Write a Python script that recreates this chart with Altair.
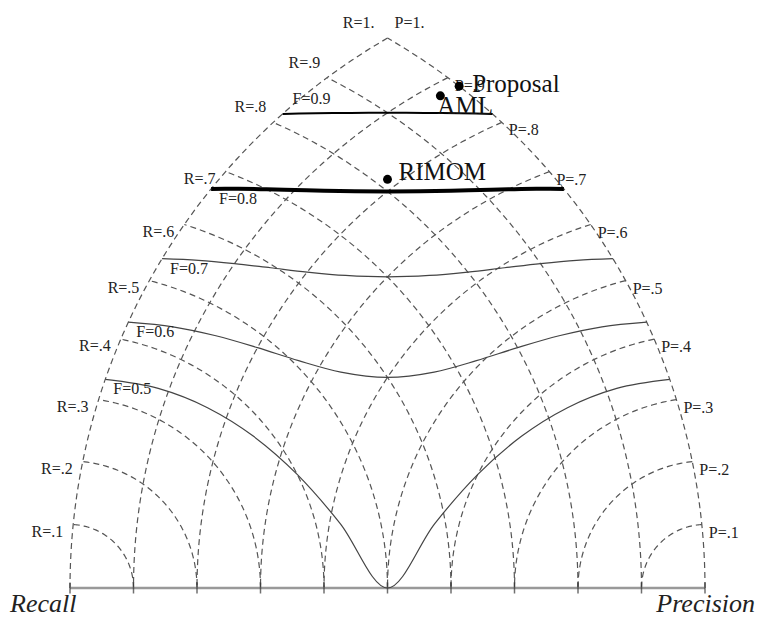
import numpy as np
import pandas as pd
import altair as alt

# ---------------- data ----------------
grid_levels = [0.1, 0.2, 0.3, 0.4, 0.5, 0.6, 0.7, 0.8, 0.9]
r_labels = ["R=.1", "R=.2", "R=.3", "R=.4", "R=.5", "R=.6", "R=.7", "R=.8", "R=.9"]
p_labels = ["P=.1", "P=.2", "P=.3", "P=.4", "P=.5", "P=.6", "P=.7", "P=.8", "P=.9"]
f_levels = [0.5, 0.6, 0.7, 0.8, 0.9]
f_labels = ["F=0.5", "F=0.6", "F=0.7", "F=0.8", "F=0.9"]
base_ticks = [0.0, 0.1, 0.2, 0.3, 0.4, 0.5, 0.6, 0.7, 0.8, 0.9, 1.0]
systems = ["Proposal", "AML", "RIMOM"]
sys_recall = [1.0, 0.97, 0.815]
sys_precision = [0.88, 0.88, 0.815]
top_labels = ["R=1.", "P=1."]
axis_names = ["Recall", "Precision"]


# ---------------- geometry: recall = distance to left corner, precision = distance to right corner
def rp_to_xy(r, p):
    x = (r * r - p * p + 1.0) / 2.0
    y = np.sqrt(np.maximum(r * r - x * x, 0.0))
    return x, y


rows = []
# recall arcs (centred at left corner)
for lv in grid_levels + [1.0]:
    x0, y0 = rp_to_xy(lv, 1.0)
    th0 = np.arctan2(y0, x0)
    th = np.linspace(0.0, th0, 80)
    for i, t in enumerate(th):
        rows.append({"x": lv * np.cos(t), "y": lv * np.sin(t), "grp": f"R{lv}", "ord": i})
# precision arcs (centred at right corner)
for lv in grid_levels + [1.0]:
    x0, y0 = rp_to_xy(1.0, lv)
    ph0 = np.arctan2(y0, x0 - 1.0)
    ph = np.linspace(ph0, np.pi, 80)
    for i, t in enumerate(ph):
        rows.append({"x": 1.0 + lv * np.cos(t), "y": lv * np.sin(t), "grp": f"P{lv}", "ord": i})
grid_df = pd.DataFrame(rows)

# iso-F curves, sampled coarsely and smoothed (as in the original drawing)
frows = []
for f in f_levels:
    p_left = np.linspace(1.0, f, 7)            # left half: P from 1 down to f
    r_left = f * p_left / (2.0 * p_left - f)
    rs = np.concatenate([r_left, p_left[::-1][1:]])
    ps = np.concatenate([p_left, r_left[::-1][1:]])
    for i, (r, p) in enumerate(zip(rs, ps)):
        x, y = rp_to_xy(r, p)
        frows.append({"x": x, "y": y, "f": f, "ord": i})
f_df = pd.DataFrame(frows)

lab_r = pd.DataFrame({"lv": grid_levels, "txt": r_labels})
lab_r["x"], lab_r["y"] = rp_to_xy(lab_r["lv"].values, 1.0)
lab_p = pd.DataFrame({"lv": grid_levels, "txt": p_labels})
lab_p["x"], lab_p["y"] = rp_to_xy(1.0, lab_p["lv"].values)

lab_f = pd.DataFrame({"f": f_levels, "txt": f_labels})
lab_f["x"], lab_f["y"] = rp_to_xy(lab_f["f"].values / (2.0 - lab_f["f"].values), 1.0)

tx, ty = rp_to_xy(1.0, 1.0)
top_df = pd.DataFrame({"txt": top_labels, "x": [tx, tx], "y": [ty, ty]})

ticks_df = pd.DataFrame({"x": base_ticks, "y": [0.0] * len(base_ticks)})
base_df = pd.DataFrame({"x": [base_ticks[0]], "x2": [base_ticks[-1]], "y": [0.0]})
names_df = pd.DataFrame({"txt": axis_names, "x": [base_ticks[0], base_ticks[-1]], "y": [0.0, 0.0]})

sys_df = pd.DataFrame({"name": systems, "R": sys_recall, "P": sys_precision})
sys_df["x"], sys_df["y"] = rp_to_xy(sys_df["R"].values, sys_df["P"].values)

# ---------------- scales: 635 px per unit ----------------
W, H = 749, 611
U = 635.0
XMIN = -62.0 / U
XMAX = (W - 62.0) / U
YMIN = (580.0 - H) / U
YMAX = 580.0 / U
xs = alt.Scale(domain=[XMIN, XMAX], nice=False, zero=False)
ys = alt.Scale(domain=[YMIN, YMAX], nice=False, zero=False)
X = alt.X("x:Q", scale=xs, axis=None)
Y = alt.Y("y:Q", scale=ys, axis=None)
SERIF = "Liberation Serif"

grid = alt.Chart(grid_df).mark_line(
    color="#555555", strokeWidth=1.2, strokeDash=[6, 4], clip=False
).encode(x=X, y=Y, detail="grp:N", order=alt.Order("ord:Q"))

base = alt.Chart(base_df).mark_rule(color="#999999", strokeWidth=2.5).encode(
    x=X, x2="x2:Q", y=Y
)
ticks = alt.Chart(ticks_df).mark_tick(
    orient="vertical", color="#333333", size=11, thickness=1.5
).encode(x=X, y=Y)

def fline(sel, width, color):
    return alt.Chart(f_df).transform_filter(sel).mark_line(
        color=color, strokeWidth=width, interpolate="monotone"
    ).encode(x=X, y=Y, detail="f:N", order=alt.Order("ord:Q"))

f_thin = fline("datum.f < 0.75", 1.2, "#444444")
f_08 = fline("datum.f > 0.75 && datum.f < 0.85", 4.0, "#000000")
f_09 = fline("datum.f > 0.85", 2.0, "#000000")

def txt(df, sel, align, dx, dy, size=16, style="normal"):
    c = alt.Chart(df)
    if sel:
        c = c.transform_filter(sel)
    return c.mark_text(
        align=align, baseline="middle", dx=dx, dy=dy, font=SERIF,
        fontSize=size, fontStyle=style, color="#222222"
    ).encode(x=X, y=Y, text="txt:N")

r_lab_low = txt(lab_r, "datum.lv < 0.75", "right", -10, 7)
r_lab_high = txt(lab_r, "datum.lv > 0.75", "right", -7, -15)
p_lab = txt(lab_p, "", "left", 7, 8)
f_lab_low = txt(lab_f, "datum.f < 0.85", "left", 8, 10)
f_lab_high = txt(lab_f, "datum.f > 0.85", "left", 10, -15)
top_r = txt(top_df, "datum.txt == 'R=1.'", "right", -13, -15)
top_p = txt(top_df, "datum.txt == 'P=1.'", "left", 7, -15)
rec_lab = txt(names_df, "datum.txt == 'Recall'", "left", -60, 16, 26, "italic")
pre_lab = txt(names_df, "datum.txt == 'Precision'", "right", 50, 16, 26, "italic")

dots = alt.Chart(sys_df).mark_circle(color="#000000", opacity=1, size=80).encode(x=X, y=Y)

def sys_txt(name, dx, dy):
    return alt.Chart(sys_df).transform_filter(f"datum.name == '{name}'").mark_text(
        align="left", baseline="middle", dx=dx, dy=dy, font=SERIF, fontSize=25, color="#111111"
    ).encode(x=X, y=Y, text="name:N")

t_prop = sys_txt("Proposal", 13, -2)
t_aml = sys_txt("AML", -3, 10)
t_rim = sys_txt("RIMOM", 11, -7)

chart = alt.layer(
    grid, base, ticks, f_thin, f_08, f_09,
    r_lab_low, r_lab_high, p_lab, f_lab_low, f_lab_high, top_r, top_p,
    rec_lab, pre_lab, dots, t_prop, t_aml, t_rim
).properties(
    width=W, height=H, autosize=alt.AutoSizeParams(type="none"), padding=0
).configure_view(stroke=None)

chart.save("out.html", embed_options={"renderer": "svg", "actions": False})
